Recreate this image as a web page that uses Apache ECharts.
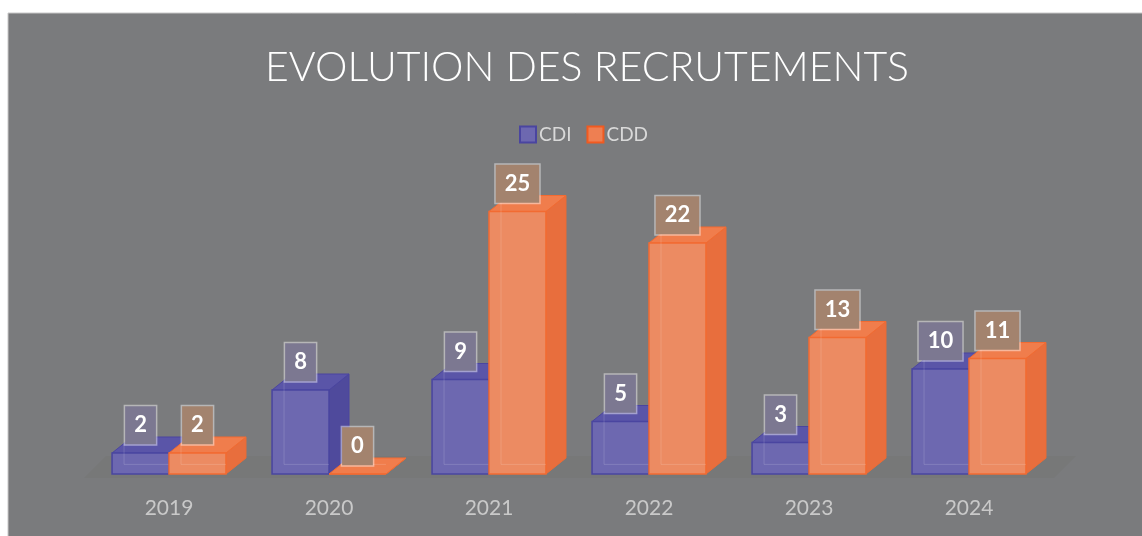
<!DOCTYPE html>
<html>
<head>
<meta charset="utf-8">
<script src="https://cdn.jsdelivr.net/npm/echarts@6/dist/echarts.min.js"></script>
<style>
html, body { margin: 0; padding: 0; background: #fff; overflow: hidden; }
#main { width: 1142px; height: 536px; }
</style>
</head>
<body>
<div id="main"></div>
<script>
var years = ['2019', '2020', '2021', '2022', '2023', '2024'];
var cdi = [2, 8, 9, 5, 3, 10];
var cdd = [2, 0, 25, 22, 13, 11];

var myChart = echarts.init(document.getElementById('main'));

// fausse 3D : face avant + dessus + cote droit
function box3d(side, col) {
    return function (params, api) {
        var idx = api.value(0);
        var v = api.value(1);
        var base = api.coord([idx, 0]);
        var top = api.coord([idx, v]);
        var band = api.size([1, 0])[0];
        var w = band * 0.356;
        var dx = 20, dy = -16;
        var x0 = side === 0 ? base[0] - w : base[0];
        var yt = top[1], yb = base[1];
        return {
            type: 'group',
            children: [
                {
                    type: 'polygon',
                    shape: {points: [[x0 + w, yt], [x0 + w + dx, yt + dy], [x0 + w + dx, yb + dy], [x0 + w, yb]]},
                    style: {fill: col.side, stroke: col.edge, lineWidth: 1}
                },
                {
                    type: 'polygon',
                    shape: {points: [[x0, yt], [x0 + w, yt], [x0 + w + dx, yt + dy], [x0 + dx, yt + dy]]},
                    style: {fill: col.top, stroke: col.edge, lineWidth: 1}
                },
                {
                    type: 'rect',
                    shape: {x: x0, y: yt, width: w, height: yb - yt},
                    style: {fill: col.front, stroke: col.edge, lineWidth: 1.5},
                    textContent: {
                        style: {
                            text: String(v),
                            fill: '#fff',
                            fontFamily: 'Lato',
                            fontWeight: 'bold',
                            fontSize: 22,
                            lineHeight: 24,
                            backgroundColor: col.label,
                            borderColor: 'rgba(255,255,255,0.45)',
                            borderWidth: 1.5,
                            padding: [7, 9]
                        },
                        z2: 100
                    },
                    textConfig: {position: 'top', distance: 8}
                },
                {
                    type: 'polyline',
                    shape: {points: [[x0 + dx * 0.6, yt + dy * 0.6], [x0 + dx * 0.6, yb + dy * 0.6], [x0 + w, yb + dy * 0.6]]},
                    style: {fill: null, stroke: 'rgba(255,255,255,0.15)', lineWidth: 1}
                }
            ]
        };
    };
}

var purple = {front: '#6d68b0', top: '#5a55a8', side: '#4f4a9c', edge: '#4a45a0', label: '#7c7891'};
var orange = {front: '#ec8b62', top: '#f07d4c', side: '#e86e3d', edge: '#f26b32', label: '#a3836e'};

option = {
    backgroundColor: '#fff',
    graphic: [
        {
            type: 'rect',
            z: -10,
            shape: {x: 8, y: 13, width: 1200, height: 600},
            style: {fill: '#7a7b7d', stroke: '#c8c8c8', lineWidth: 1}
        }
    ],
    title: {
        text: 'EVOLUTION DES RECRUTEMENTS',
        left: 582,
        textAlign: 'center',
        top: 42,
        textStyle: {
            color: '#fff',
            fontFamily: 'Lato',
            fontWeight: 300,
            fontSize: 41
        }
    },
    legend: {
        left: 514,
        top: 120,
        itemWidth: 16,
        itemHeight: 16,
        itemGap: 15,
        icon: 'rect',
        textStyle: {color: '#d9d9d9', fontFamily: 'Lato', fontSize: 19, padding: [0, 0, 0, -2]},
        data: ['CDI', 'CDD']
    },
    grid: {left: 89, width: 960, top: 159, height: 315},
    xAxis: {
        type: 'category',
        data: years,
        axisLine: {show: false},
        axisTick: {show: false},
        axisLabel: {color: '#c9c9c9', fontFamily: 'Lato', fontSize: 21, margin: 24}
    },
    yAxis: {
        type: 'value',
        min: 0,
        max: 30,
        show: false,
        splitLine: {show: false}
    },
    series: [
        {
            type: 'custom',
            name: 'floor',
            silent: true,
            z: 1,
            renderItem: function (params, api) {
                var a = api.coord([0, 0]);
                var b = api.coord([years.length - 1, 0]);
                var band = api.size([1, 0])[0];
                var l = a[0] - band / 2 - 5, r = b[0] + band / 2 + 5;
                return {
                    type: 'polygon',
                    shape: {points: [[l, a[1] + 4], [r, a[1] + 4], [r + 22, a[1] - 18], [l + 22, a[1] - 18]]},
                    style: {fill: 'rgba(95,95,70,0.08)'}
                };
            },
            data: [[0, 0]]
        },
        {
            type: 'custom',
            name: 'CDI',
            z: 2,
            itemStyle: {color: '#6d68b0', borderColor: '#4a45a0', borderWidth: 1.5},
            renderItem: box3d(0, purple),
            data: cdi.map(function (v, i) { return [i, v]; })
        },
        {
            type: 'custom',
            name: 'CDD',
            z: 3,
            itemStyle: {color: '#ee7f52', borderColor: '#f05a20', borderWidth: 1.5},
            renderItem: box3d(1, orange),
            data: cdd.map(function (v, i) { return [i, v]; })
        }
    ]
};
myChart.setOption(option);
</script>
</body>
</html>
